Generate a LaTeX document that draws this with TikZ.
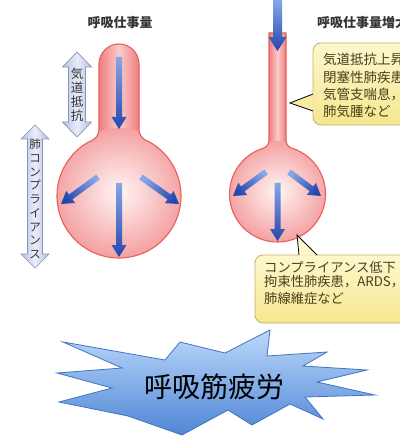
\documentclass[tikz,border=0pt]{standalone}
\usepackage{fontspec}
\newfontfamily\jp{Noto Sans CJK JP}
\definecolor{lungedge}{HTML}{E8605C}
\definecolor{lungfill}{HTML}{F4A2A2}
\definecolor{lungdark}{HTML}{EE7E7E}
\definecolor{lunglight}{HTML}{FBCACA}
\definecolor{lungcore}{HTML}{FFF5F4}
\definecolor{arrtail}{HTML}{86A6E6}
\definecolor{arrhead}{HTML}{2447AE}
\definecolor{dblfill}{HTML}{E9EDF8}
\definecolor{dbledge}{HTML}{B6C2E2}
\definecolor{dblline}{HTML}{8995B8}
\definecolor{notetop}{HTML}{FDF7CF}
\definecolor{notebot}{HTML}{F5E78E}
\definecolor{noteline}{HTML}{C4B05C}
\definecolor{notetext}{HTML}{4A3E1C}
\definecolor{startop}{HTML}{BCD9FA}
\definecolor{starbot}{HTML}{4F86D6}
\definecolor{starline}{HTML}{4274C2}
\definecolor{titletext}{HTML}{333333}

% blue arrow as a shaded polygon: x1 y1 x2 y2 shaft-width head-width head-length
\newcommand\bluearr[7]{%
  \pgfmathsetmacro\arrang{atan2(#4-#2,#3-#1)}%
  \pgfmathsetmacro\arrlen{veclen(#3-#1,#4-#2)}%
  \pgfmathsetmacro\arrbase{\arrlen-#7}%
  \pgfmathsetmacro\arrshade{90-\arrang}%
  \begin{scope}[shift={(#1,#2)},rotate=\arrang]
    \shade[top color=arrtail,bottom color=arrhead,shading angle=\arrshade]
      (0,-#5/2) -- (\arrbase,-#5/2) -- (\arrbase,-#6/2) -- (\arrlen,0)
      -- (\arrbase,#6/2) -- (\arrbase,#5/2) -- (0,#5/2) -- cycle;
  \end{scope}}

\tikzset{
  lungline/.style={draw=lungedge,line width=1.1pt},
  dblarrow/.style={left color=dbledge,right color=dbledge,middle color=dblfill,draw=dblline,line width=0.7pt},
  vtext/.style={inner sep=0,align=center,text=titletext},
  title/.style={inner sep=0,text=titletext,font=\jp\bfseries\fontsize{13}{15}\selectfont},
  notebox/.style={top color=notetop,bottom color=notebot,draw=noteline,line width=0.8pt,rounded corners=8pt},
  noteline/.style={inner sep=0,anchor=west,text=notetext,font=\jp\fontsize{13.5}{15}\selectfont},
}

\begin{document}
\begin{tikzpicture}[x=1pt,y=1pt,yscale=-1]
\useasboundingbox[fill=white] (0,0) rectangle (399,438);

% ---- titles
\node[title] (tleft) at (120,23) {呼吸仕事量};
\node[title,anchor=west] (tright) at (317,23) {呼吸仕事量増大};

% ---- normal lung: wide airway, large alveolus
\def\lungA{(99,64) arc[start angle=180,end angle=360,radius=20] -- (139,128)
  .. controls (139,136) and (142,139) .. (150,142.3)
  arc[start angle=300,end angle=600,radius=62]
  .. controls (96,139) and (99,136) .. (99,128) -- cycle}
\fill[lungfill] \lungA;
\begin{scope}
  \clip \lungA;
  \shade[left color=lungdark,right color=lungdark,middle color=lunglight] (99,40) rectangle (139,150);
  \shade[inner color=lungcore,outer color=lungfill] (119,192) circle[radius=64];
\end{scope}
\draw[lungline] \lungA;

% ---- stiff lung: narrow airway, small alveolus
\def\lungB{(269,140) -- (269,33) -- (286,33) -- (286,140)
  .. controls (286,145) and (289,148) .. (295.5,149.5)
  arc[start angle=292,end angle=608,radius=48]
  .. controls (266,148) and (269,145) .. (269,140) -- cycle}
\fill[lungfill] \lungB;
\begin{scope}
  \clip \lungB;
  \shade[left color=lungdark,right color=lungdark,middle color=lunglight] (269,30) rectangle (286,155);
  \shade[inner color=lungcore,outer color=lungfill] (277.5,191) circle[radius=50];
\end{scope}
\draw[lungline] \lungB;

% ---- airflow and expansion arrows
\bluearr{119}{57}{119}{129}{6}{15}{12}
\bluearr{119}{183}{119}{257}{6}{15}{12}
\bluearr{98}{177}{61}{204}{6}{15}{12}
\bluearr{141}{177}{179}{204}{6}{15}{12}
\bluearr{277.5}{0}{277.5}{51}{9}{18}{14}
\bluearr{277.5}{183}{277.5}{241}{6}{15}{12}
\bluearr{266}{172}{233}{196}{6}{15}{12}
\bluearr{289}{172}{321}{196}{6}{15}{12}

% ---- double arrows on the left
\path[dblarrow] (77,52) -- (91.5,67) -- (85.5,67) -- (85.5,122) -- (91.5,122) -- (77,137)
  -- (62.5,122) -- (68.5,122) -- (68.5,67) -- (62.5,67) -- cycle;
\node[vtext,font=\jp\fontsize{12.5}{14}\selectfont] (kido) at (77,95) {気\\道\\抵\\抗};

\path[dblarrow] (35,125) -- (49,139) -- (42.5,139) -- (42.5,254) -- (49,254) -- (35,268)
  -- (21,254) -- (27.5,254) -- (27.5,139) -- (21,139) -- cycle;
\node[vtext,font=\jp\fontsize{11.5}{13.75}\selectfont] (comp) at (35,199) {肺\\コ\\ン\\プ\\ラ\\イ\\ア\\ン\\ス};

% ---- callout: airway resistance
\path[notebox] (313,43) rectangle (430,125);
\fill[notebot!70!notetop] (313.5,94) -- (290,103) -- (313.5,111) -- cycle;
\draw[noteline,line width=0.8pt] (313,94) -- (290,103) -- (313,111);
\node[noteline] (r1) at (323,59) {気道抵抗上昇};
\node[noteline] (r2) at (323,77) {閉塞性肺疾患};
\node[noteline] (r3) at (323,94) {気管支喘息，};
\node[noteline] (r4) at (323,111) {肺気腫など};

% ---- callout: low compliance
\path[notebox] (255,255) rectangle (430,323);
\fill[notetop] (299,255.5) -- (297,235) -- (317,255.5) -- cycle;
\draw[noteline,line width=0.8pt] (299,255) -- (297,235) -- (317,255);
\node[noteline,font=\jp\fontsize{13.3}{15}\selectfont] (c1) at (264,267) {コンプライアンス低下};
\node[noteline,font=\jp\fontsize{13.3}{15}\selectfont] (c2) at (264,282) {拘束性肺疾患，ARDS，};
\node[noteline,font=\jp\fontsize{13.3}{15}\selectfont] (c3) at (264,298) {肺線維症など};

% ---- respiratory muscle fatigue burst
\path[top color=startop,bottom color=starbot,draw=starline,line width=0.8pt]
  (63,342) -- (165,360) -- (180,342) -- (225,353) -- (270,330) -- (267,356)
  -- (327,352) -- (303,366) -- (367,370) -- (317,382) -- (375,395) -- (305,397)
  -- (323,419) -- (290,404) -- (252,425) -- (228,410) -- (182,435) -- (128,416)
  -- (59,402) -- (112,388) -- (57,373) -- (122,368) -- cycle;
\node[inner sep=0,font=\jp\fontsize{28}{30}\selectfont] (fatigue) at (214,387) {呼吸筋疲労};
\end{tikzpicture}
\end{document}
